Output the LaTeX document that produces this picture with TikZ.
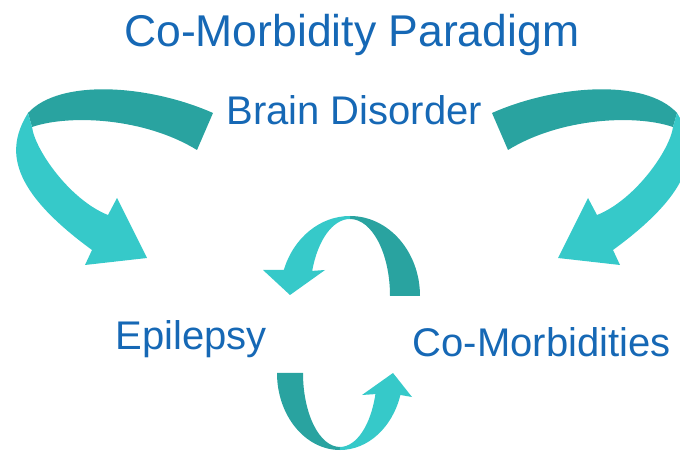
\documentclass[tikz,border=0pt]{standalone}
\usepackage{fontspec}
\setmainfont{Liberation Sans}
\usepackage{tikz}

\definecolor{txtblue}{RGB}{22,104,181}
\definecolor{backteal}{RGB}{41,163,160}
\definecolor{frontteal}{RGB}{54,201,201}

\begin{document}
\begin{tikzpicture}[x=1pt,y=1pt,
	heading/.style={text=txtblue,inner sep=0pt,anchor=base,font=\fontsize{44.5}{53}\selectfont},
	caption/.style={text=txtblue,inner sep=0pt,anchor=base,font=\fontsize{40}{48}\selectfont}]
	%frame
	\useasboundingbox (0,0) rectangle (680,450);
	\clip (0,0) rectangle (680,450);

	%captions
	\node[heading] (paradigm) at (351.7,403.3) {Co-Morbidity Paradigm};
	\node[caption] (brain) at (354.3,325) {Brain Disorder};
	\node[caption] (epilepsy) at (191.3,100) {Epilepsy};
	\node[caption] (comorb) at (541.7,93.3) {Co-Morbidities};

	%left ribbon
	\fill[backteal] (213,337) .. controls (150,365) and (60,372) .. (28,337)
		-- (32,323) .. controls (70,336) and (145,332) .. (197,300) -- cycle;	%back, over the top
	\fill[frontteal] (28,337) .. controls (5,300) and (10,260) .. (92,200)
		-- (85,185) -- (147,192) -- (117,252) -- (108,235)
		.. controls (70,250) and (35,300) .. (32,323) -- cycle;			%front, down to the head

	%right ribbon (mirror of the left one)
	\begin{scope}[shift={(705,0)},xscale=-1]
		\fill[backteal] (213,337) .. controls (150,365) and (60,372) .. (28,337)
			-- (32,323) .. controls (70,336) and (145,332) .. (197,300) -- cycle;
		\fill[frontteal] (28,337) .. controls (5,300) and (10,260) .. (92,200)
			-- (85,185) -- (147,192) -- (117,252) -- (108,235)
			.. controls (70,250) and (35,300) .. (32,323) -- cycle;
	\end{scope}

	%upper loop
	\fill[backteal] (420,154) arc[start angle=0,end angle=90,x radius=70,y radius=80]
		-- (350,231) arc[start angle=90,end angle=0,x radius=40,y radius=77] -- cycle;	%right leg
	\fill[frontteal] (350,234) arc[start angle=90,end angle=161,x radius=70,y radius=80]
		-- (263,180) -- (290,155) -- (325,180) -- (312.2,179.1)
		arc[start angle=161,end angle=90,x radius=40,y radius=77] -- cycle;		%left leg + head

	%lower loop
	\fill[backteal] (277,77) arc[start angle=180,end angle=270,x radius=63,y radius=77]
		-- (340,3) arc[start angle=270,end angle=180,x radius=37,y radius=74] -- cycle;	%left leg
	\fill[frontteal] (340,0) arc[start angle=270,end angle=343.4,x radius=63,y radius=77]
		-- (412,53) -- (393,77) -- (362,55) -- (375.4,55.9)
		arc[start angle=343.4,end angle=270,x radius=37,y radius=74] -- cycle;	%right leg + head
\end{tikzpicture}
\end{document}
